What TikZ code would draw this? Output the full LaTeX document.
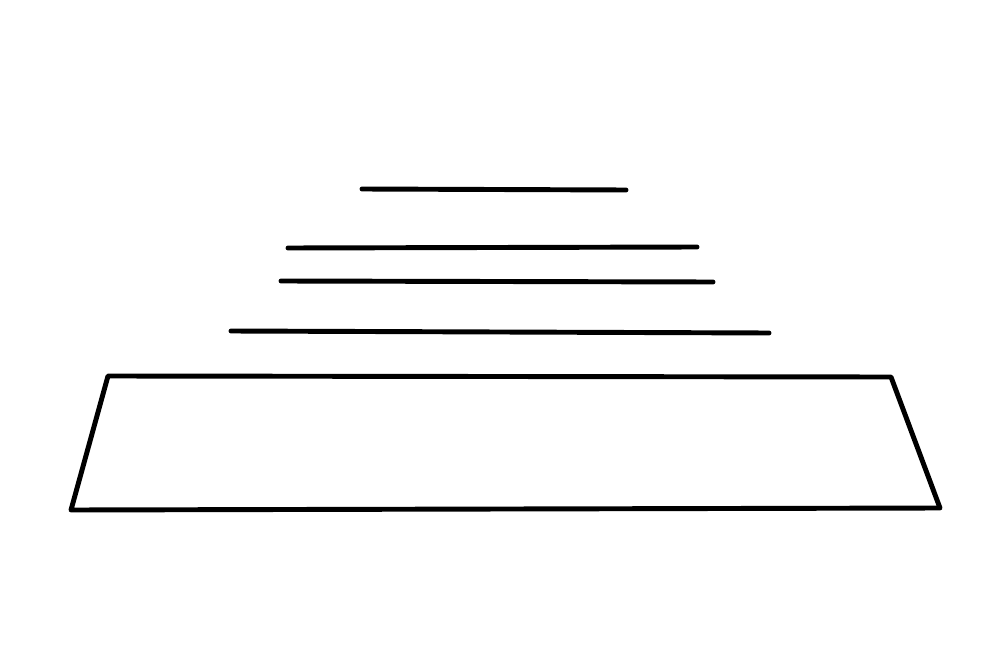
\documentclass[tikz,border=0pt]{standalone}

\begin{document}
\begin{tikzpicture}[x=0.01cm, y=-0.01cm]
            \useasboundingbox (0,0) rectangle (1000,670);

            \draw[black, line width=1.4pt, line cap=round] (362,189) -- (626,190);
            \draw[black, line width=1.4pt, line cap=round] (288,248) -- (697,247);
            \draw[black, line width=1.4pt, line cap=round] (281,281) -- (713,282);
            \draw[black, line width=1.4pt, line cap=round] (231,331) -- (769,333);

            \draw[black, line width=1.4pt, line join=round] (108,376) -- (891,377) -- (940,508) -- (71,510) -- cycle;
        \end{tikzpicture}
\end{document}
